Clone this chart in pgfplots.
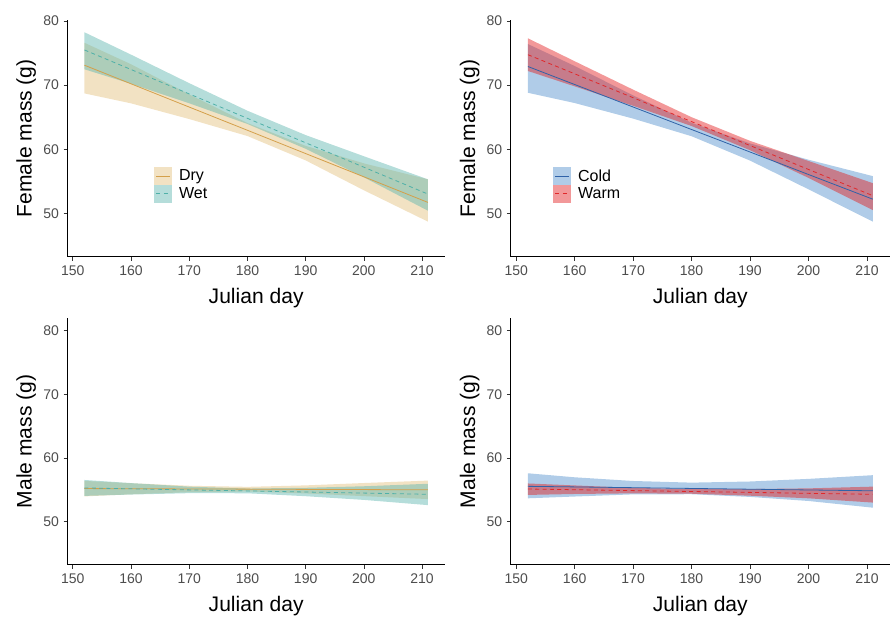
\documentclass[border=0pt]{standalone}
\usepackage{pgfplots}
\usepackage{pgfplotstable}
\pgfplotsset{compat=1.18}
\usepgfplotslibrary{fillbetween}
\usepackage{fontspec}
\setmainfont{Liberation Sans}
\definecolor{dryF}{HTML}{DFB76A}
\definecolor{dryL}{HTML}{D4A04A}
\definecolor{wetF}{HTML}{5AB4AC}
\definecolor{wetL}{HTML}{4FB0A8}
\definecolor{coldF}{HTML}{4F8FCB}
\definecolor{coldL}{HTML}{2F62A8}
\definecolor{warmF}{HTML}{E31A1C}
\definecolor{warmL}{HTML}{E0282A}
\definecolor{tickgrey}{HTML}{4D4D4D}

% female, dry / wet
\pgfplotstableread{
x   m      lo     hi
152 73.10  68.70  76.60
160 70.20  67.15  73.25
170 66.57  64.70  68.54
180 62.95  62.05  64.08
190 59.32  58.25  60.52
200 55.69  53.59  57.79
211 51.70  48.70  55.30
}\FDry
\pgfplotstableread{
x   m      lo     hi
152 75.48  72.46  78.24
160 72.43  70.20  74.75
170 68.62  67.16  70.30
180 64.81  63.93  66.00
190 61.00  60.06  62.20
200 57.19  55.61  58.90
211 53.00  50.40  55.30
}\FWet
% female, cold / warm
\pgfplotstableread{
x   m      lo     hi
152 72.90  68.80  76.40
160 70.09  67.20  72.98
170 66.58  64.77  68.39
180 63.07  62.02  64.12
190 59.56  58.22  60.90
200 56.05  53.74  58.36
211 52.20  48.70  55.80
}\FCold
\pgfplotstableread{
x   m      lo     hi
152 74.74  72.20  77.30
160 71.76  69.80  73.72
170 68.03  66.77  69.29
180 64.30  63.61  64.99
190 60.57  59.84  61.30
200 56.84  55.52  58.16
211 52.75  50.50  54.70
}\FWarm
% male, dry / wet
\pgfplotstableread{
x   m      lo     hi
152 55.20  53.97  56.40
160 55.17  54.30  56.04
170 55.14  54.64  55.64
180 55.11  54.75  55.47
190 55.07  54.44  55.70
200 55.04  54.01  56.07
211 55.00  53.55  56.45
}\MDry
\pgfplotstableread{
x   m      lo     hi
152 55.30  54.05  56.55
160 55.16  54.26  56.06
170 54.99  54.48  55.50
180 54.83  54.46  55.20
190 54.66  54.00  55.32
200 54.49  53.42  55.56
211 54.30  52.60  55.95
}\MWet
% male, cold / warm
\pgfplotstableread{
x   m      lo     hi
152 55.55  53.67  57.60
160 55.46  53.95  56.97
170 55.34  54.29  56.39
180 55.22  54.31  56.13
190 55.10  53.89  56.31
200 54.98  53.25  56.72
211 54.85  52.20  57.30
}\MCold
\pgfplotstableread{
x   m      lo     hi
152 55.13  54.20  56.00
160 55.02  54.35  55.69
170 54.88  54.45  55.31
180 54.74  54.39  55.10
190 54.60  54.08  55.12
200 54.45  53.67  55.23
211 54.30  53.00  55.50
}\MWarm

\pgfplotsset{
  panel/.style={
    scale only axis, anchor=south west,
    xmin=149.05, xmax=213.95,
    xtick={150,160,...,210}, ytick={50,60,70,80},
    axis lines=left, axis line style={-, line width=0.75pt, black},
    tick align=outside, major tick length=2.8pt,
    tick style={color=black!80, line width=0.5pt},
    ticklabel style={font=\fontsize{10.5}{12}\selectfont, text=tickgrey},
    /pgf/number format/assume math mode=true,
    label style={font=\fontsize{15.8}{18}\selectfont},
    xlabel={Julian day},
    xlabel style={at={([yshift=-34.7pt]axis description cs:0.5,0)}, anchor=base},
    ylabel style={at={([xshift=-26.7pt]axis description cs:0,0.5)}, anchor=base},
    legend style={draw=none, fill=none, inner sep=0pt, row sep=0pt,
      font=\fontsize{12}{14}\selectfont, anchor=north west,
      nodes={inner sep=0.5pt},
      /tikz/every odd column/.append style={column sep=4.5pt}},
    legend cell align=left,
  },
}

\begin{document}
\begin{tikzpicture}
\path (0pt,0pt) rectangle (668.25pt,462.75pt);

% ---------- top left ----------
\begin{axis}[panel, at={(50.475pt,270pt)}, width=283.3pt, height=178.1pt,
  ymin=43.18, ymax=80.23, ylabel={Female mass (g)},
  legend style={at={(rel axis cs:0.23,0.378)}}]
\addplot[draw=none, name path=a1, forget plot] table[x=x,y=lo]{\FDry};
\addplot[draw=none, name path=a2, forget plot] table[x=x,y=hi]{\FDry};
\addplot[dryF, fill opacity=0.4, forget plot] fill between[of=a1 and a2];
\addplot[dryL, line width=0.6pt, forget plot] table[x=x,y=m]{\FDry};
\addplot[draw=none, name path=b1, forget plot] table[x=x,y=lo]{\FWet};
\addplot[draw=none, name path=b2, forget plot] table[x=x,y=hi]{\FWet};
\addplot[wetF, fill opacity=0.45, forget plot] fill between[of=b1 and b2];
\addplot[wetL, line width=0.6pt, dash pattern=on 3pt off 2.5pt, forget plot] table[x=x,y=m]{\FWet};
\addlegendimage{legend image code/.code={\fill[draw=none,fill=dryF,fill opacity=0.4] (0pt,-6.6pt) rectangle (13.5pt,6.6pt); \draw[dryL,line width=0.6pt,solid] (1.5pt,0pt)--(12pt,0pt);}}
\addlegendentry{Dry}
\addlegendimage{legend image code/.code={\fill[draw=none,fill=wetF,fill opacity=0.45] (0pt,-6.6pt) rectangle (13.5pt,6.6pt); \draw[wetL,line width=0.6pt, dash pattern=on 3pt off 2.5pt] (1.5pt,0pt)--(12pt,0pt);}}
\addlegendentry{Wet}
\end{axis}

% ---------- top right ----------
\begin{axis}[panel, at={(383.0pt,270pt)}, width=284.5pt, height=178.1pt,
  ymin=43.18, ymax=80.23, ylabel={Female mass (g)},
  legend style={at={(rel axis cs:0.112,0.378)}}]
\addplot[draw=none, name path=c1, forget plot] table[x=x,y=lo]{\FCold};
\addplot[draw=none, name path=c2, forget plot] table[x=x,y=hi]{\FCold};
\addplot[coldF, fill opacity=0.45, forget plot] fill between[of=c1 and c2];
\addplot[coldL, line width=0.6pt, forget plot] table[x=x,y=m]{\FCold};
\addplot[draw=none, name path=d1, forget plot] table[x=x,y=lo]{\FWarm};
\addplot[draw=none, name path=d2, forget plot] table[x=x,y=hi]{\FWarm};
\addplot[warmF, fill opacity=0.45, forget plot] fill between[of=d1 and d2];
\addplot[warmL, line width=0.6pt, dash pattern=on 3pt off 2.5pt, forget plot] table[x=x,y=m]{\FWarm};
\addlegendimage{legend image code/.code={\fill[draw=none,fill=coldF,fill opacity=0.45] (0pt,-6.6pt) rectangle (13.5pt,6.6pt); \draw[coldL,line width=0.6pt,solid] (1.5pt,0pt)--(12pt,0pt);}}
\addlegendentry{Cold}
\addlegendimage{legend image code/.code={\fill[draw=none,fill=warmF,fill opacity=0.45] (0pt,-6.6pt) rectangle (13.5pt,6.6pt); \draw[warmL,line width=0.6pt, dash pattern=on 3pt off 2.5pt] (1.5pt,0pt)--(12pt,0pt);}}
\addlegendentry{Warm}
\end{axis}

% ---------- bottom left ----------
\begin{axis}[panel, at={(50.475pt,39pt)}, width=283.3pt, height=185.25pt,
  ymin=43.2, ymax=81.98, ylabel={Male mass (g)}]
\addplot[draw=none, name path=e1, forget plot] table[x=x,y=lo]{\MDry};
\addplot[draw=none, name path=e2, forget plot] table[x=x,y=hi]{\MDry};
\addplot[dryF, fill opacity=0.4, forget plot] fill between[of=e1 and e2];
\addplot[dryL, line width=0.6pt, forget plot] table[x=x,y=m]{\MDry};
\addplot[draw=none, name path=f1, forget plot] table[x=x,y=lo]{\MWet};
\addplot[draw=none, name path=f2, forget plot] table[x=x,y=hi]{\MWet};
\addplot[wetF, fill opacity=0.45, forget plot] fill between[of=f1 and f2];
\addplot[wetL, line width=0.6pt, dash pattern=on 3pt off 2.5pt, forget plot] table[x=x,y=m]{\MWet};
\end{axis}

% ---------- bottom right ----------
\begin{axis}[panel, at={(383.0pt,39pt)}, width=284.5pt, height=185.25pt,
  ymin=43.2, ymax=81.98, ylabel={Male mass (g)}]
\addplot[draw=none, name path=g1, forget plot] table[x=x,y=lo]{\MCold};
\addplot[draw=none, name path=g2, forget plot] table[x=x,y=hi]{\MCold};
\addplot[coldF, fill opacity=0.45, forget plot] fill between[of=g1 and g2];
\addplot[coldL, line width=0.6pt, forget plot] table[x=x,y=m]{\MCold};
\addplot[draw=none, name path=h1, forget plot] table[x=x,y=lo]{\MWarm};
\addplot[draw=none, name path=h2, forget plot] table[x=x,y=hi]{\MWarm};
\addplot[warmF, fill opacity=0.45, forget plot] fill between[of=h1 and h2];
\addplot[warmL, line width=0.6pt, dash pattern=on 3pt off 2.5pt, forget plot] table[x=x,y=m]{\MWarm};
\end{axis}
\end{tikzpicture}
\end{document}
